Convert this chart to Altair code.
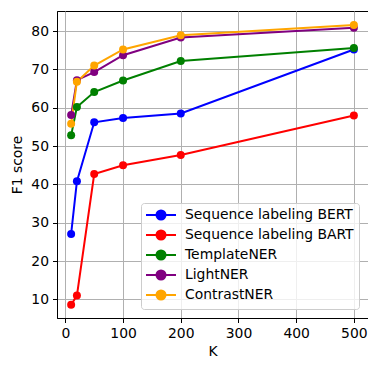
import altair as alt
import pandas as pd

K = [10, 20, 50, 100, 200, 500]
series_names = ["Sequence labeling BERT", "Sequence labeling BART", "TemplateNER", "LightNER", "ContrastNER"]
colors = ["blue", "red", "green", "purple", "orange"]
bert = [27.1, 40.8, 56.2, 57.3, 58.5, 75.2]
bart = [8.6, 11.0, 42.7, 45.0, 47.7, 58.0]
template = [52.8, 60.2, 64.1, 67.1, 72.2, 75.6]
lightner = [58.1, 67.2, 69.3, 73.7, 78.3, 80.9]
contrast = [55.8, 66.8, 71.0, 75.2, 78.9, 81.6]

values = [bert, bart, template, lightner, contrast]
rows = []
for i, (name, vals) in enumerate(zip(series_names, values)):
    for k, v in zip(K, vals):
        rows.append({"K": k, "F1": v, "series": name, "idx": i})
df = pd.DataFrame(rows)

FONT = "DejaVu Sans"
FS = 13.9

x = alt.X("K:Q", scale=alt.Scale(domain=[-14.5, 524.5], nice=False, zero=False),
          axis=alt.Axis(values=[0, 100, 200, 300, 400, 500], title="K"))
y = alt.Y("F1:Q", scale=alt.Scale(domain=[5.16, 85.24], nice=False, zero=False),
          axis=alt.Axis(values=[10, 20, 30, 40, 50, 60, 70, 80], title="F1 score"))
color = alt.Color("series:N", sort=series_names,
                  scale=alt.Scale(domain=series_names, range=colors),
                  legend=alt.Legend(
                      title=None, orient="none", legendX=84, legendY=192,
                      symbolType="M-2.5,0H2.5M-0.75,0A0.75,0.75,0,1,1,0.75,0A0.75,0.75,0,1,1,-0.75,0Z",
                      symbolSize=144, symbolStrokeWidth=2, symbolOffset=8,
                      labelOffset=17, labelFontSize=FS, labelFont=FONT, labelColor="black",
                      labelLimit=400,
                      rowPadding=2, padding=5, strokeColor="#cccccc",
                      fillColor="rgba(255,255,255,0.8)", cornerRadius=3))

lines = alt.Chart(df).mark_line(strokeWidth=2).encode(x=x, y=y, color=color, detail="series:N")
points = alt.Chart(df).mark_point(filled=True, opacity=1, size=64).encode(
    x=x, y=y, color=alt.Color("series:N", scale=alt.Scale(domain=series_names, range=colors), legend=None),
    order="idx:Q")

chart = alt.layer(lines, points).properties(
    width=311, height=307,
    autosize=alt.AutoSizeParams(type="none"),
    padding={"left": 49, "top": 3, "right": 0, "bottom": 45},
).configure_axis(
    grid=True, gridColor="#b0b0b0", gridWidth=1,
    domainColor="black", domainWidth=1, tickColor="black", tickSize=4.5, tickWidth=1,
    labelFont=FONT, labelFontSize=FS, labelColor="black", labelPadding=4,
    titleFont=FONT, titleFontSize=FS, titleFontWeight="normal", titleColor="black",
).configure_axisX(titlePadding=4).configure_axisY(titlePadding=6).configure_view(
    stroke="black", strokeWidth=1
)

chart.save("out.html", embed_options={"renderer": "svg", "actions": False})
